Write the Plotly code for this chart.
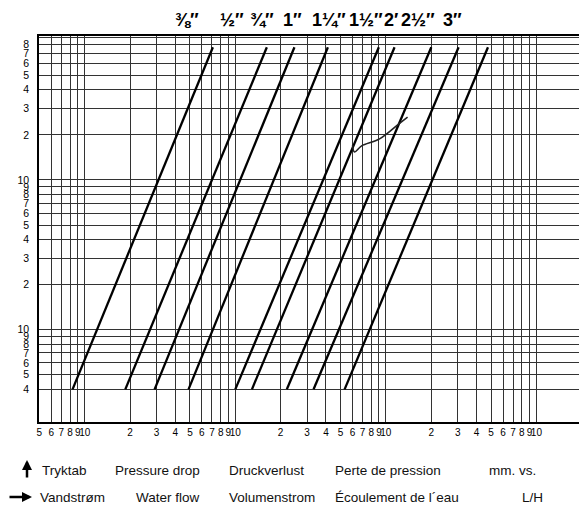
import math
import plotly.graph_objects as go

# ---- data ----
pipe_sizes = ["⅜″", "½″", "¾″", "1″", "1¼″", "1½″", "2′", "2½″", "3″"]
flow_at_low = [8.3, 18.6, 29.1, 48.9, 100, 129, 220, 331, 532]        # L/H at 4 mm
flow_at_high = [71, 162, 247, 412, 898, 1142, 2003, 3042, 4766]      # L/H at top end
pressure_low = 4
pressure_high = 770

note_flow = [601, 619, 690, 908, 1233, 1394]
note_pressure = [171, 154, 169, 188, 239, 263]

x_tick_vals = [5, 6, 7, 8, 9, 10, 20, 30, 40, 50, 60, 70, 80, 90, 100,
               200, 300, 400, 500, 600, 700, 800, 900, 1000,
               2000, 3000, 4000, 5000, 6000, 7000, 8000, 9000, 10000]
x_tick_text = ["5", "6", "7", "8", "9", "10", "2", "3", "4", "5", "6", "7", "8", "9", "10",
               "2", "3", "4", "5", "6", "7", "8", "9", "10",
               "2", "3", "4", "5", "6", "7", "8", "9", "10"]
y_tick_vals = [4, 5, 6, 7, 8, 9, 10, 20, 30, 40, 50, 60, 70, 80, 90, 100,
               200, 300, 400, 500, 600, 700, 800, 900]
y_tick_text = ["4", "5", "6", "7", "8", "9", "10", "2", "3", "4", "5", "6", "7", "8", "9", "10",
               "2", "3", "4", "5", "6", "7", "8", ""]

legend_row1 = ["Tryktab", "Pressure drop", "Druckverlust", "Perte de pression", "mm. vs."]
legend_row2 = ["Vandstrøm", "Water flow", "Volumenstrom", "Écoulement de l´eau", "L/H"]

fig = go.Figure()
for i, name in enumerate(pipe_sizes):
    fig.add_trace(go.Scatter(
        x=[flow_at_low[i], flow_at_high[i]],
        y=[pressure_low, pressure_high],
        mode="lines", name=name,
        line=dict(color="black", width=2.3),
        hoverinfo="name"))

fig.add_trace(go.Scatter(x=note_flow, y=note_pressure, mode="lines",
                         line=dict(color="#222", width=1.6, shape="spline"),
                         hoverinfo="skip"))

# the page body adds an 8px offset, so the figure is drawn 8px smaller
OFF = 8
W, H = 587 - OFF, 517 - OFF
L, R, T, B = 39 - OFF, 3, 36 - OFF, 95
pw, ph = W - L - R, H - T - B


def px_x(px):
    return (px - OFF - L) / pw


def px_y(py):
    return (H - B - (py - OFF)) / ph


fig.update_layout(
    width=W, height=H,
    margin=dict(l=L, r=R, t=T, b=B, autoexpand=False),
    paper_bgcolor="white", plot_bgcolor="white",
    showlegend=False,
    xaxis=dict(type="log", range=[math.log10(4.97), math.log10(20700)],
               tickmode="array", tickvals=x_tick_vals, ticktext=x_tick_text,
               tickangle=0, automargin=False,
               showgrid=True, gridcolor="#333", gridwidth=1,
               showline=True, linecolor="black", linewidth=1.6, mirror=True,
               ticks="", zeroline=False,
               tickfont=dict(family="Liberation Sans Narrow, Liberation Sans, Arial",
                             size=10, color="black")),
    yaxis=dict(type="log", range=[math.log10(2.42), math.log10(915)],
               tickmode="array", tickvals=y_tick_vals, ticktext=y_tick_text,
               automargin=False,
               showgrid=True, gridcolor="#333", gridwidth=1,
               showline=True, linecolor="black", linewidth=1.6, mirror=True,
               ticks="", zeroline=False, ticklabelstandoff=6,
               tickfont=dict(family="Liberation Sans, Arial", size=10.5, color="black")),
)

# pipe size labels along the top
top_label_px = [187, 232, 262, 292, 329, 366, 391, 418, 452]
for name, px in zip(pipe_sizes, top_label_px):
    fig.add_annotation(x=px_x(px), y=1.0 + T / ph, xref="paper", yref="paper",
                       text="<b>" + name + "</b>", showarrow=False,
                       xanchor="center", yanchor="top",
                       font=dict(family="Liberation Sans Narrow, Liberation Sans, Arial",
                                 size=18, color="black"))

row1_px = [40, 113, 227, 333, 487]
row2_px = [38, 134, 227, 333, 520]
for txt, px in zip(legend_row1, row1_px):
    fig.add_annotation(x=px_x(px), y=px_y(470), xref="paper", yref="paper",
                       text=txt, showarrow=False, xanchor="left", yanchor="middle",
                       font=dict(family="Liberation Sans, Arial", size=13.5, color="#111"))
for txt, px in zip(legend_row2, row2_px):
    fig.add_annotation(x=px_x(px), y=px_y(497), xref="paper", yref="paper",
                       text=txt, showarrow=False, xanchor="left", yanchor="middle",
                       font=dict(family="Liberation Sans, Arial", size=13.5, color="#111"))

# arrows
fig.add_annotation(x=px_x(27), y=px_y(460), xref="paper", yref="paper",
                   ax=0, ay=19, axref="pixel", ayref="pixel",
                   text="", showarrow=True, arrowhead=2, arrowsize=0.8,
                   arrowwidth=2.5, arrowcolor="black")
fig.add_annotation(x=px_x(32), y=px_y(497), xref="paper", yref="paper",
                   ax=-30, ay=0, axref="pixel", ayref="pixel",
                   text="", showarrow=True, arrowhead=2, arrowsize=0.8,
                   arrowwidth=2.5, arrowcolor="black")

fig.write_html("out.html")
